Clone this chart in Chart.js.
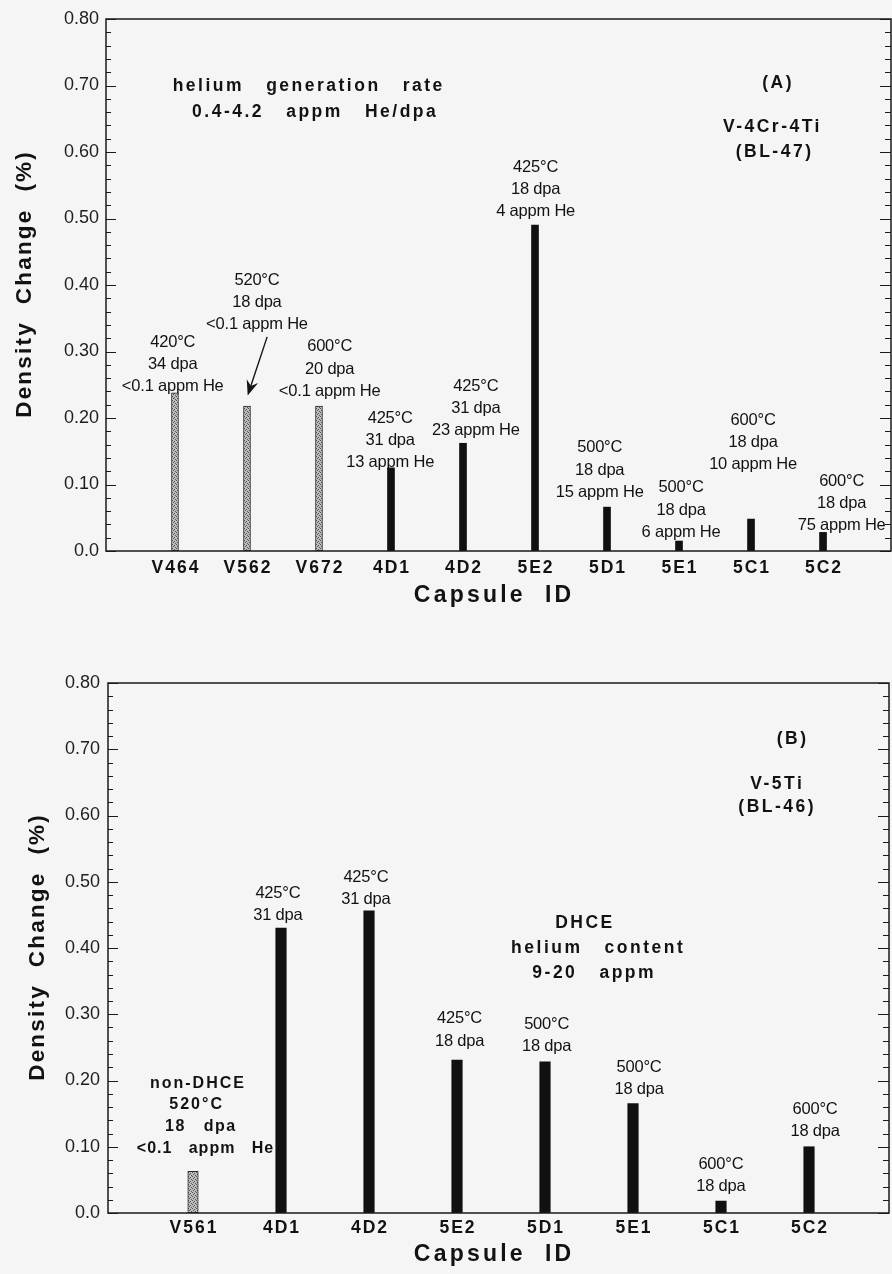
<!DOCTYPE html>
<html><head><meta charset="utf-8">
<script src="https://cdn.jsdelivr.net/npm/chart.js@4.4.1/dist/chart.umd.min.js"></script>
<style>
html,body{margin:0;padding:0;background:#f5f5f5;}
body{width:892px;height:1274px;position:relative;overflow:hidden;}
canvas{position:absolute;left:0;}
#c1{top:0}
#c2{top:620px}
</style></head><body>
<canvas id="c1" width="892" height="620"></canvas>
<canvas id="c2" width="892" height="654"></canvas>
<script>
// ---------- data ----------
const capsulesA = ['V464','V562','V672','4D1','4D2','5E2','5D1','5E1','5C1','5C2'];
const densityA  = [0.238,0.218,0.218,0.125,0.162,0.490,0.066,0.015,0.048,0.028];
const kindA     = ['non','non','non','dhce','dhce','dhce','dhce','dhce','dhce','dhce'];

const capsulesB = ['V561','4D1','4D2','5E2','5D1','5E1','5C1','5C2'];
const densityB  = [0.063,0.430,0.456,0.231,0.228,0.165,0.018,0.100];
const kindB     = ['non','dhce','dhce','dhce','dhce','dhce','dhce','dhce'];

const yTickLabels = ['0.0','0.10','0.20','0.30','0.40','0.50','0.60','0.70','0.80'];
const yTitle = 'Density  Change  (%)';
const xTitle = 'Capsule  ID';

// annotation text blocks (x in capsule index, y in density value of first line)
const notesA = [
  {x:-0.03, y:0.314, lines:['420°C','34 dpa','<0.1 appm He']},
  {x:1.14,  y:0.4075,lines:['520°C','18 dpa','<0.1 appm He']},
  {x:2.15,  y:0.307, lines:['600°C','20 dpa','<0.1 appm He']},
  {x:2.99,  y:0.200, lines:['425°C','31 dpa','13 appm He']},
  {x:4.18,  y:0.248, lines:['425°C','31 dpa','23 appm He']},
  {x:5.01,  y:0.577, lines:['425°C','18 dpa','4 appm He']},
  {x:5.90,  y:0.155, lines:['500°C','18 dpa','15 appm He']},
  {x:7.03,  y:0.095, lines:['500°C','18 dpa','6 appm He']},
  {x:8.03,  y:0.197, lines:['600°C','18 dpa','10 appm He']},
  {x:9.26,  y:0.105, lines:['600°C','18 dpa','75 appm He']}
];
const boldA = [
  {x:1.84, y:0.699, text:'helium   generation   rate', size:17.5, ls:2.5},
  {x:1.93, y:0.660, text:'0.4-4.2   appm   He/dpa', size:17.5, ls:2.5},
  {x:8.36, y:0.704, text:'(A)', size:17.5, ls:2.5},
  {x:8.28, y:0.638, text:'V-4Cr-4Ti', size:17.5, ls:2.5},
  {x:8.31, y:0.600, text:'(BL-47)', size:17.5, ls:2.5}
];
const arrowA = {x1:1.28, y1:0.322, x2:1.01, y2:0.234};

const notesB = [
  {x:0.966, y:0.483, lines:['425°C','31 dpa']},
  {x:1.966, y:0.507, lines:['425°C','31 dpa']},
  {x:3.03,  y:0.293, lines:['425°C','18 dpa']},
  {x:4.02,  y:0.285, lines:['500°C','18 dpa']},
  {x:5.07,  y:0.220, lines:['500°C','18 dpa']},
  {x:6.00,  y:0.074, lines:['600°C','18 dpa']},
  {x:7.07,  y:0.157, lines:['600°C','18 dpa']}
];
const boldB = [
  {x:0.045, y:0.196, text:'non-DHCE', size:16, ls:2},
  {x:0.03,  y:0.164, text:'520°C', size:16, ls:2},
  {x:0.08,  y:0.130, text:'18   dpa', size:16, ls:1.5},
  {x:0.136, y:0.097, text:'<0.1   appm   He', size:16, ls:1},
  {x:4.44,  y:0.438, text:'DHCE', size:17.5, ls:2.5},
  {x:4.59,  y:0.400, text:'helium   content', size:17.5, ls:2.5},
  {x:4.545, y:0.362, text:'9-20   appm', size:17.5, ls:2.5},
  {x:6.80,  y:0.7155,text:'(B)', size:17.5, ls:2.5},
  {x:6.625, y:0.6475,text:'V-5Ti', size:17.5, ls:2.5},
  {x:6.625, y:0.613, text:'(BL-46)', size:17.5, ls:2.5}
];

// ---------- helpers ----------
const FAM = '"Liberation Sans", Arial, Helvetica, sans-serif';
function hatchPattern(canvas){
  const c=document.createElement('canvas'); c.width=4; c.height=4;
  const g=c.getContext('2d');
  g.fillStyle='#bcbcbc'; g.fillRect(0,0,4,4);
  g.fillStyle='#555555';
  g.fillRect(0,0,1,1); g.fillRect(2,1,1,1); g.fillRect(1,2,1,1); g.fillRect(3,3,1,1);
  return canvas.getContext('2d').createPattern(c,'repeat');
}
function txt(ctx, s, x, y, font, ls, align){
  ctx.save();
  ctx.font = font;
  ctx.letterSpacing = (ls||0)+'px';
  ctx.fillStyle = '#121212';
  ctx.textBaseline = 'middle';
  ctx.textAlign = align||'center';
  const dx = (align==='center'||!align) ? (ls||0)/2 : 0;
  ctx.fillText(s, x+dx, y);
  ctx.restore();
}

function makeChart(id, cfg){
  const canvas = document.getElementById(id);
  const pat = hatchPattern(canvas);
  const data = cfg.values.map((v,i)=>({x:i, y:v}));
  const deco = {
    id:'deco'+id,
    beforeDatasetsDraw(chart){
      const ctx=chart.ctx, xs=chart.scales.x, ys=chart.scales.y;
      cfg.notes.forEach(n=>{
        const px=xs.getPixelForValue(n.x), py=ys.getPixelForValue(n.y);
        n.lines.forEach((l,k)=>txt(ctx,l,px,py+k*22.3,'16.5px '+FAM,-0.2));
      });
      cfg.bold.forEach(b=>{
        txt(ctx,b.text,xs.getPixelForValue(b.x),ys.getPixelForValue(b.y),'bold '+b.size+'px '+FAM,b.ls);
      });
      if(cfg.arrow){
        const a=cfg.arrow;
        const x1=xs.getPixelForValue(a.x1), y1=ys.getPixelForValue(a.y1);
        const x2=xs.getPixelForValue(a.x2), y2=ys.getPixelForValue(a.y2);
        const ang=Math.atan2(y2-y1,x2-x1);
        ctx.save();
        ctx.strokeStyle='#151515'; ctx.fillStyle='#151515'; ctx.lineWidth=1.4;
        ctx.beginPath(); ctx.moveTo(x1,y1); ctx.lineTo(x2-8*Math.cos(ang),y2-8*Math.sin(ang)); ctx.stroke();
        ctx.beginPath();
        ctx.moveTo(x2,y2);
        ctx.lineTo(x2-15*Math.cos(ang)+6*Math.sin(ang), y2-15*Math.sin(ang)-6*Math.cos(ang));
        ctx.lineTo(x2-10*Math.cos(ang), y2-10*Math.sin(ang));
        ctx.lineTo(x2-15*Math.cos(ang)-6*Math.sin(ang), y2-15*Math.sin(ang)+6*Math.cos(ang));
        ctx.closePath(); ctx.fill();
        ctx.restore();
      }
    },
    afterDraw(chart){
      const ctx=chart.ctx, a=chart.chartArea, xs=chart.scales.x, ys=chart.scales.y;
      ctx.save();
      ctx.strokeStyle='#1a1a1a'; ctx.lineWidth=1.5;
      ctx.strokeRect(a.left,a.top,a.right-a.left,a.bottom-a.top);
      ctx.lineWidth=1.2;
      for(let k=0;k<=40;k++){
        const v=k*0.02, py=Math.round(ys.getPixelForValue(v))+0.5;
        const len=(k%5===0)?10:5;
        ctx.beginPath();
        ctx.moveTo(a.left,py); ctx.lineTo(a.left+len,py);
        ctx.moveTo(a.right,py); ctx.lineTo(a.right-len-1,py);
        ctx.stroke();
      }
      ctx.restore();
      // x tick labels
      cfg.labels.forEach((l,i)=>{
        txt(ctx,l,xs.getPixelForValue(i),a.bottom+cfg.xLabOff,'bold 17.5px '+FAM,2);
      });
      // axis titles
      txt(ctx,xTitle,(a.left+a.right)/2-6,a.bottom+cfg.xTitleOff,'bold 23px '+FAM,3.2);
      ctx.save();
      ctx.translate(cfg.yTitleX,(a.top+a.bottom)/2);
      ctx.rotate(-Math.PI/2);
      txt(ctx,yTitle,0,0,'bold 22.5px '+FAM,2.2);
      ctx.restore();
    }
  };
  return new Chart(canvas,{
    type:'bar',
    data:{datasets:[{
      data,
      backgroundColor: cfg.kinds.map(k=>k==='non'?pat:'#101010'),
      borderColor: cfg.kinds.map(k=>k==='non'?'#2a2a2a':'#101010'),
      borderWidth: cfg.kinds.map(k=>k==='non'?1:0),
      barThickness: cfg.barW,
      borderSkipped:false
    }]},
    options:{
      responsive:false, animation:false, devicePixelRatio:1,
      layout:{padding:cfg.pad},
      plugins:{legend:{display:false}, tooltip:{enabled:false}},
      scales:{
        x:{type:'linear', min:cfg.xmin, max:cfg.xmax, offset:false,
           grid:{display:false, drawTicks:false}, border:{display:false},
           ticks:{display:false}, afterFit(s){s.height=cfg.xH;}},
        y:{type:'linear', min:0, max:0.8,
           grid:{display:false, drawTicks:false}, border:{display:false},
           ticks:{stepSize:0.1, padding:cfg.tickPad, color:'#1e1e1e',
                  font:{family:FAM, size:18},
                  callback:(v)=>yTickLabels[Math.round(v*10)]},
           afterFit(s){s.width=cfg.yW;}}
      }
    },
    plugins:[deco]
  });
}

makeChart('c1',{
  labels:capsulesA, values:densityA, kinds:kindA, notes:notesA, bold:boldA, arrow:arrowA,
  barW:7, xmin:-0.958, xmax:9.944, pad:{top:19,left:0,right:1,bottom:0},
  xH:69, yW:106, tickPad:7, xLabOff:17, xTitleOff:45, yTitleX:25
});
makeChart('c2',{
  labels:capsulesB, values:densityB, kinds:kindB, notes:notesB, bold:boldB, arrow:null,
  barW:10.5, xmin:-0.966, xmax:7.909, pad:{top:63,left:0,right:3,bottom:0},
  xH:61, yW:108, tickPad:8, xLabOff:15, xTitleOff:42, yTitleX:38
});
</script>
</body></html>
